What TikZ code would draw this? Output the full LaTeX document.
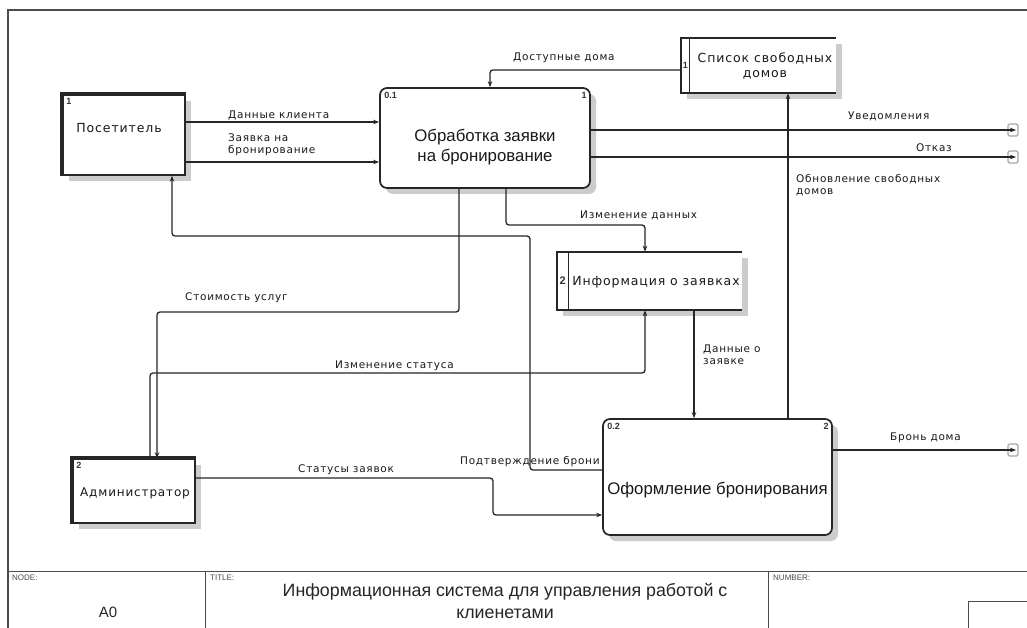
\documentclass[tikz,border=0pt]{standalone}
\usepackage{fontspec}
\setmainfont{Liberation Sans}
\newfontfamily\lblfont[LetterSpace=7]{DejaVu Sans}
\usetikzlibrary{arrows.meta,calc,shadows}
\begin{document}
\begin{tikzpicture}[x=1pt,y=-1pt,
  line/.style={draw=black!85, line width=1.3pt, rounded corners=3pt},
  flow/.style={line, -{Stealth[length=6pt,width=4.5pt]}},
  lbl/.style={font=\lblfont\fontsize{10.5}{12}\selectfont, inner sep=0pt, anchor=west, text=black!90},
  boxtxt/.style={font=\fontsize{16.8}{20}\selectfont, inner sep=0pt, align=center, text=black!90},
  enttxt/.style={font=\lblfont\fontsize{12.5}{15}\selectfont, inner sep=0pt, text=black!90},
  num/.style={font=\fontsize{9}{10}\selectfont\bfseries, inner sep=0pt, text=black!80},
  shd/.style={drop shadow={shadow xshift=6pt,shadow yshift=-6pt,fill=gray!40,opacity=1}},
  proc/.style={draw=black!85, line width=1.7pt, rounded corners=7pt, fill=white, inner sep=0pt, shd},
  ent/.style={draw=black!85, line width=1.6pt, fill=white, inner sep=0pt, shd},
  store/.style={fill=white, inner sep=0pt, shd},
  tun/.style={draw=gray!70, line width=1.2pt, rounded corners=1.5pt},
  small/.style={font=\fontsize{8}{9}\selectfont, inner sep=0pt, anchor=north west, text=black!70}
]
\useasboundingbox (0,0) rectangle (1027,628);
\fill[white] (0,0) rectangle (1027,628);
% frame
\draw[black!70, line width=1.2pt] (8,628) -- (8,10) -- (1027,10);
\draw[black!70, line width=1pt] (8,571) -- (1027,571);
\draw[black!70, line width=1pt] (205,571) -- (205,628);
\draw[black!70, line width=1pt] (768,571) -- (768,628);
\draw[black!70, line width=1pt] (968,628) -- (968,601) -- (1027,601);
\node[small] (nodelbl) at (12,575) {NODE:};
\node[small] (titlelbl) at (210,575) {TITLE:};
\node[small] (numlbl) at (773,575) {NUMBER:};
\node[font=\fontsize{15}{18}\selectfont, inner sep=0pt, text=black!85] (a0) at (108,612) {A0};
\node[font=\fontsize{17.8}{22}\selectfont, inner sep=0pt, align=center, text=black!85] (title) at (505,601) {Информационная система для управления работой с\\клиенетами};

% boxes
\node[ent, minimum width=122pt, minimum height=80pt] (vis) at (124,135) {};
\draw[black!85, line width=3.5pt] (vis.south west) -- (vis.north west) -- (vis.north east);
\node[enttxt] (vist) at (119,128) {Посетитель};
\node[num, anchor=north west] (visn) at ([xshift=4pt,yshift=-4pt]vis.north west) {1};

\node[ent, minimum width=122pt, minimum height=64pt] (adm) at (134,491) {};
\draw[black!85, line width=3.5pt] (adm.south west) -- (adm.north west) -- (adm.north east);
\node[enttxt, font=\lblfont\fontsize{12}{14}\selectfont] (admt) at (135,493) {Администратор};
\node[num, anchor=north west] (admn) at ([xshift=4pt,yshift=-4pt]adm.north west) {2};

\node[proc, minimum width=210pt, minimum height=100pt] (p1) at (485,138) {};
\node[boxtxt] (p1t) at (485,147) {Обработка заявки\\на бронирование};
\node[num, anchor=north west] (p1n) at ([xshift=5pt,yshift=-5pt]p1.north west) {0.1};
\node[num, anchor=north east] (p1m) at ([xshift=-4pt,yshift=-5pt]p1.north east) {1};

\node[proc, minimum width=229pt, minimum height=116pt] (p2) at (717.5,477) {};
\node[boxtxt] (p2t) at (717.5,490) {Оформление бронирования};
\node[num, anchor=north west] (p2n) at ([xshift=5pt,yshift=-5pt]p2.north west) {0.2};
\node[num, anchor=north east] (p2m) at ([xshift=-4pt,yshift=-5pt]p2.north east) {2};

\node[store, minimum width=155pt, minimum height=55pt] (ds1) at (758.5,65.5) {};
\draw[black!85, line width=1.6pt] (ds1.north east) -- (ds1.north west) -- (ds1.south west) -- (ds1.south east);
\draw[black!85, line width=1.2pt] ([xshift=9pt]ds1.north west) -- ([xshift=9pt]ds1.south west);
\node[enttxt, align=center] (ds1t) at (765,66) {Список свободных\\домов};
\node[num] (ds1n) at ([xshift=4.5pt]ds1.west) {1};

\node[store, minimum width=185pt, minimum height=58pt] (ds2) at (649.5,281) {};
\draw[black!85, line width=1.6pt] (ds2.north east) -- (ds2.north west) -- (ds2.south west) -- (ds2.south east);
\draw[black!85, line width=1.2pt] ([xshift=12pt]ds2.north west) -- ([xshift=12pt]ds2.south west);
\node[enttxt] (ds2t) at (656,282) {Информация о заявках};
\node[num, font=\fontsize{11}{12}\selectfont\bfseries] (ds2n) at ([xshift=6pt]ds2.west) {2};

% tunnels / free ends
\coordinate (o1) at (1016,130);
\coordinate (o2) at (1016,157);
\coordinate (o3) at (1016,450);
\draw[tun] (1008,124) rectangle (1018,136);
\draw[tun] (1008,151) rectangle (1018,163);
\draw[tun] (1008,444) rectangle (1018,456);

% connectors
\draw[flow] (vis.east |- 0,122) -- (p1.west |- 0,122);
\draw[flow] (vis.east |- 0,162) -- (p1.west |- 0,162);
\draw[flow] (ds1.west |- 0,70) -| (p1.north -| 490,0);
\draw[flow] (p1.east |- 0,130) -- (o1);
\draw[flow] (p1.east |- 0,157) -- (o2);
\draw[flow] (p2.north -| 788,0) -- (ds1.south -| 788,0);
\draw[flow] (p1.south -| 506,0) |- (580,225) -| (ds2.north -| 645,0);
\draw[flow] (p2.west |- 0,470) -| (530,236) -| (vis.south -| 172,0);
\draw[flow] (p1.south -| 459,0) |- (300,312) -| (adm.north -| 157,0);
\draw[flow] (adm.north -| 150,0) |- (400,373) -| (ds2.south -| 645,0);
\draw[flow] (ds2.south -| 694,0) -- (p2.north -| 694,0);
\draw[flow] (adm.east |- 0,478) -| (493,496) |- (p2.west |- 0,515);
\draw[flow] (p2.east |- 0,450) -- (o3);

% labels
\node[lbl] (l1) at (228,115) {Данные клиента};
\node[lbl, align=left] (l2) at (228,145) {Заявка на\\бронирование};
\node[lbl] (l3) at (513,58) {Доступные дома};
\node[lbl] (l4) at (848,116) {Уведомления};
\node[lbl, anchor=east] (l5) at (952,148) {Отказ};
\node[lbl, align=left] (l6) at (796,185) {Обновление свободных\\домов};
\node[lbl] (l7) at (580,215) {Изменение данных};
\node[lbl] (l8) at (185,298) {Стоимость услуг};
\node[lbl] (l9) at (335,366) {Изменение статуса};
\node[lbl, align=left] (l10) at (703,355) {Данные о\\заявке};
\node[lbl] (l11) at (460,462) {Подтверждение брони};
\node[lbl] (l12) at (298,470) {Статусы заявок};
\node[lbl] (l13) at (890,438) {Бронь дома};
\end{tikzpicture}
\end{document}
